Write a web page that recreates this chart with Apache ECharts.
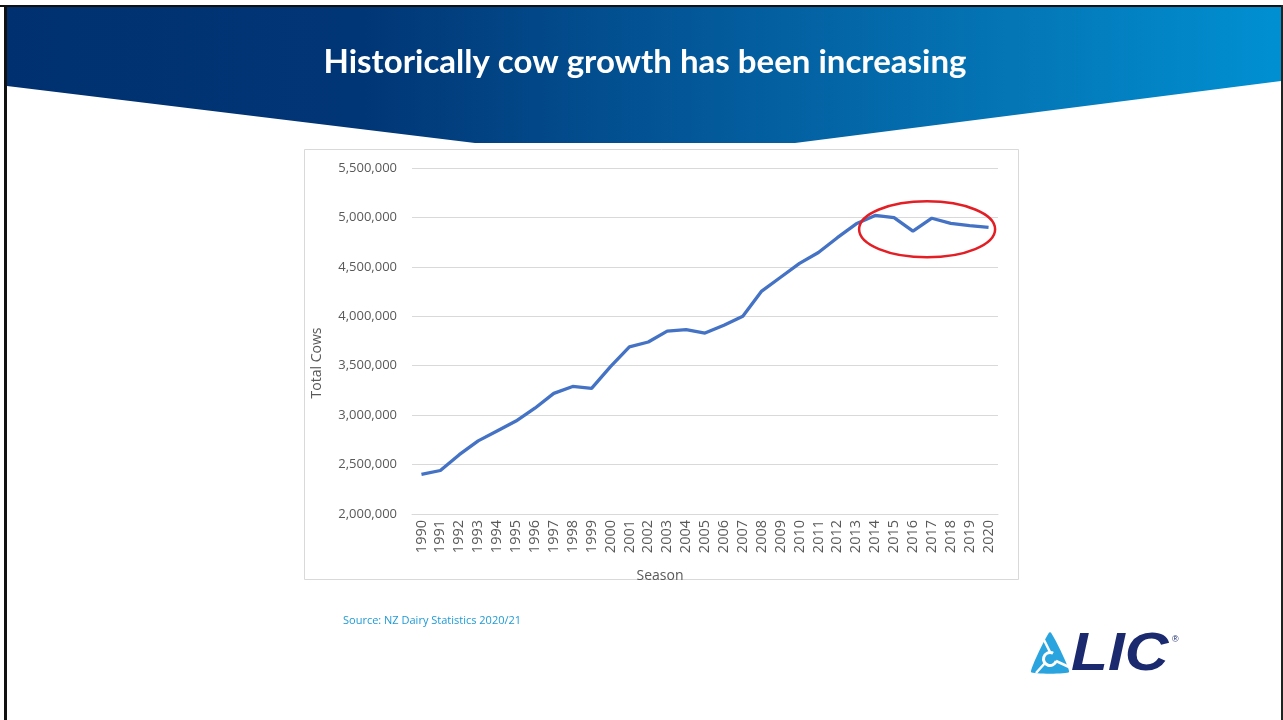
<!DOCTYPE html>
<html>
<head>
<meta charset="utf-8">
<script src="https://cdn.jsdelivr.net/npm/echarts@6/dist/echarts.min.js"></script>
<style>
html,body{margin:0;padding:0;background:#fff;}
#chart{width:1283px;height:720px;}
</style>
</head>
<body>
<div id="chart"></div>
<script>
var seasons = ['1990','1991','1992','1993','1994','1995','1996','1997','1998','1999','2000','2001','2002','2003','2004','2005','2006','2007','2008','2009','2010','2011','2012','2013','2014','2015','2016','2017','2018','2019','2020'];
var totalCows = [2400000,2440000,2600000,2740000,2840000,2940000,3070000,3220000,3290000,3270000,3490000,3690000,3740000,3850000,3865000,3830000,3910000,4000000,4255000,4395000,4535000,4645000,4795000,4935000,5020000,4998000,4862000,4992000,4940000,4918000,4900000];
var yTicks = {min:2000000, max:5500000, interval:500000};
var titleText = 'Historically cow growth has been increasing';
var sourceText = 'Source: NZ Dairy Statistics 2020/21';

var chart = echarts.init(document.getElementById('chart'), null, {renderer:'canvas'});
var font = "'Open Sans', 'DejaVu Sans', sans-serif";
function fmt(v){ return String(v).replace(/\B(?=(\d{3})+(?!\d))/g, ','); }

var option = {
  animation:false,
  backgroundColor:'#ffffff',
  grid:{left:412, right:285, top:168, bottom:206, containLabel:false},
  xAxis:{
    type:'category', data:seasons, boundaryGap:true,
    name:'Season', nameLocation:'middle', nameGap:55,
    nameTextStyle:{color:'#595959', fontSize:14, fontFamily:font, padding:[0,90,0,0]},
    axisLine:{show:true, lineStyle:{color:'#d9d9d9', width:1}},
    axisTick:{show:false},
    axisLabel:{rotate:90, interval:0, margin:6, color:'#595959', fontSize:14.5, fontFamily:font}
  },
  yAxis:{
    type:'value', min:yTicks.min, max:yTicks.max, interval:yTicks.interval,
    name:'Total Cows', nameLocation:'middle', nameGap:88, nameRotate:90,
    nameTextStyle:{color:'#595959', fontSize:14, fontFamily:font, padding:[0,44,0,0]},
    axisLine:{show:false}, axisTick:{show:false},
    axisLabel:{margin:15, color:'#595959', fontSize:13, fontFamily:font, formatter:fmt},
    splitLine:{lineStyle:{color:'#d9d9d9', width:1}}
  },
  series:[{
    type:'line', data:totalCows, showSymbol:false, symbol:'none',
    lineStyle:{color:'#4472c4', width:3.3}, z:3
  }],
  graphic:[]
};
chart.setOption(option);

// annotation ellipse positioned from the data scale
var c1 = chart.convertToPixel({gridIndex:0}, [26, 4880000]);
var c2 = chart.convertToPixel({gridIndex:0}, [27, 4880000]);
var cx = c1[0] + (c2[0]-c1[0])*0.75, cy = c1[1];

chart.setOption({graphic:[
  {type:'polygon', z:-10, shape:{points:[[7,7],[1281,7],[1281,81],[795,143],[475,143],[7,86]]},
   style:{fill:new echarts.graphic.LinearGradient(0,0,1,0,[
     {offset:0,color:'#00306f'},{offset:0.28,color:'#013676'},{offset:0.55,color:'#03599a'},{offset:0.8,color:'#0477b7'},{offset:1,color:'#0090d2'}])}},
  {type:'rect', z:-9, shape:{x:0,y:5,width:1283,height:2}, style:{fill:'#111'}},
  {type:'rect', z:-9, shape:{x:4,y:5,width:3,height:715}, style:{fill:'#111'}},
  {type:'rect', z:-9, shape:{x:1281,y:5,width:2,height:715}, style:{fill:'#222'}},
  {type:'text', z:10, style:{text:titleText, x:645, y:62, align:'center', verticalAlign:'middle',
    fill:'#ffffff', font:"bold 33px Lato, 'Open Sans', sans-serif"}},
  {type:'rect', z:-5, shape:{x:304.5,y:149.5,width:714,height:430}, style:{fill:'#ffffff', stroke:'#d9d9d9', lineWidth:1}},
  {type:'ellipse', z:20, shape:{cx:cx, cy:cy, rx:68, ry:28}, style:{fill:null, stroke:'#e31e24', lineWidth:2.5}},
  {type:'text', style:{text:sourceText, x:343, y:621, verticalAlign:'middle', fill:'#1e9ad6', font:"11px 'Open Sans', sans-serif"}},
  // LIC logo
  {type:'polygon', z:10, shape:{points:[[1050,632],[1069,672],[1031,672]], smooth:0.12},
   style:{fill:'#2aa4de'}},
  {type:'arc', z:11, shape:{cx:1050, cy:659, r:6.5, startAngle:0.3, endAngle:5.2}, style:{stroke:'#ffffff', lineWidth:3, fill:null}},
  {type:'line', z:11, shape:{x1:1050, y1:652, x2:1044, y2:640}, style:{stroke:'#ffffff', lineWidth:2.5}},
  {type:'line', z:11, shape:{x1:1056, y1:661, x2:1069, y2:667}, style:{stroke:'#ffffff', lineWidth:2.5}},
  {type:'line', z:11, shape:{x1:1045, y1:663, x2:1036, y2:673}, style:{stroke:'#ffffff', lineWidth:2.5}},
  {type:'text', z:10, x:1071, y:655, scaleX:1.12, style:{text:'LIC', x:0, y:0, verticalAlign:'middle', fill:'#1b2a6e',
    font:"italic 900 54px 'Liberation Sans', Arial, sans-serif"}},
  {type:'text', z:10, style:{text:'®', x:1172, y:640, verticalAlign:'middle', fill:'#1b2a6e', font:"9px 'Liberation Sans', sans-serif"}}
]});
</script>
</body>
</html>
